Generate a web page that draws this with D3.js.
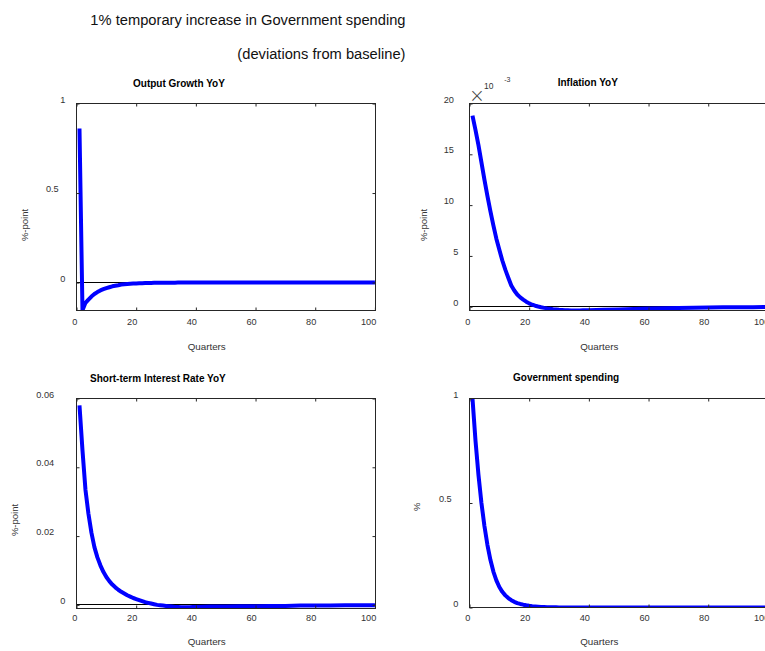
<!DOCTYPE html>
<html><head><meta charset="utf-8">
<script src="https://cdn.jsdelivr.net/npm/d3@7"></script>
<style>
html,body{margin:0;padding:0;background:#fff;}
svg{display:block;font-family:"Liberation Sans",Arial,sans-serif;}
</style></head><body>
<svg id="c" width="765" height="651"></svg>
<script>
// ---- data ----
const quarters = [1,2,3,4,5,6,7,8,9,10,11,12,13,14,15,16,17,18,19,20,
  21,22,23,24,25,26,27,28,29,30,31,32,33,34,35,36,37,38,39,40,
  45,50,55,60,65,70,75,80,85,90,95,100];
const outputGrowth = [0.86,-0.155,-0.113,-0.095,-0.078,-0.064,-0.053,-0.044,-0.037,-0.031,
  -0.026,-0.021,-0.018,-0.015,-0.011,-0.009,-0.0075,-0.0065,-0.0055,-0.0047,
  -0.004,-0.0034,-0.0028,-0.0023,-0.0019,-0.0016,-0.0013,-0.0011,-0.0009,-0.0007,
  -0.0006,-0.0005,-0.0004,-0.0003,-0.0003,-0.0002,-0.0002,-0.0001,-0.0001,-0.0001,
  0,0,0,0,0,0,0,0,0,0,0,0];
const inflation = [18.8,17.4,15.9,14.2,12.5,10.9,9.4,8.0,6.7,5.6,
  4.55,3.65,2.85,2.1,1.6,1.2,0.92,0.7,0.5,0.33,
  0.2,0.1,0.02,-0.05,-0.11,-0.16,-0.2,-0.24,-0.27,-0.3,
  -0.32,-0.34,-0.35,-0.36,-0.36,-0.36,-0.36,-0.35,-0.35,-0.34,
  -0.3,-0.26,-0.22,-0.18,-0.15,-0.12,-0.1,-0.08,-0.06,-0.05,-0.04,-0.03]; // x 10^-3
const interestRate = [0.058,0.045,0.0335,0.0265,0.021,0.0168,0.0138,0.0115,0.0096,0.0081,
  0.0069,0.0059,0.0051,0.0044,0.0038,0.0033,0.0028,0.0024,0.002,0.0017,
  0.0014,0.0011,0.0008,0.0006,0.0004,0.0002,0.0,-0.0001,-0.0002,-0.0003,
  -0.0004,-0.0005,-0.0006,-0.0006,-0.0007,-0.0007,-0.0007,-0.0007,-0.0006,-0.0006,
  -0.0005,-0.0005,-0.0004,-0.0004,-0.0003,-0.0003,-0.0002,-0.0002,-0.0002,-0.0001,-0.0001,-0.0001];
const govSpending = [1.0,0.8,0.635,0.5,0.39,0.3,0.228,0.172,0.13,0.098,
  0.075,0.058,0.045,0.035,0.027,0.021,0.017,0.0135,0.0105,0.008,
  0.006,0.0047,0.0036,0.0028,0.0022,0.0017,0.0013,0.001,0.0008,0.0006,
  0.0005,0.0004,0.0003,0.0002,0.0002,0.0001,0.0001,0.0001,0,0,
  0,0,0,0,0,0,0,0,0,0,0,0];

const xTicks = [0,20,40,60,80,100];
const ticksOutput = [0,0.5,1];
const labelsOutput = ["0","0.5","1"];
const ticksInflation = [0,5,10,15,20];
const labelsInflation = ["0","5","10","15","20"];
const ticksInterest = [0,0.02,0.04,0.06];
const labelsInterest = ["0","0.02","0.04","0.06"];
const ticksGov = [0,0.5,1];
const labelsGov = ["0","0.5","1"];

const panelTitles = ["Output Growth YoY","Inflation YoY","Short-term Interest Rate YoY","Government spending"];
const yAxisLabels = ["%-point","%-point","%-point","%"];
const xAxisLabel = "Quarters";
const mainTitle = "1% temporary increase in Government spending";
const subTitle = "(deviations from baseline)";

// ---- layout ----
const xDomain = [0,100.2];
const panels = [
  {values: outputGrowth, yDomain:[-0.156,1], yTicks:ticksOutput, yLabels:labelsOutput,
   box:{l:76.5,r:375.5,t:103.5,b:310.5}, title:[133,87.2], yLab:[25,225], xLab:[206.7,350.2], xPad:7.8},
  {values: inflation, yDomain:[-0.37,20], yTicks:ticksInflation, yLabels:labelsInflation,
   box:{l:469.5,r:768.5,t:103.5,b:310.5}, title:[557.7,85.5], yLab:[424,225], xLab:[599.3,350.2], xPad:7.8},
  {values: interestRate, yDomain:[-0.00105,0.06], yTicks:ticksInterest, yLabels:labelsInterest,
   box:{l:76.5,r:375.5,t:398.5,b:608.5}, title:[90,382.2], yLab:[15,520], xLab:[206.7,645.2], xPad:5.8},
  {values: govSpending, yDomain:[0,1], yTicks:ticksGov, yLabels:labelsGov,
   box:{l:469.5,r:768.5,t:398.5,b:607.5}, title:[513,380.5], yLab:[416.7,506.7], xLab:[599.3,645.2], xPad:6.8}
];

const svg = d3.select("#c");
const FONT = '"Liberation Sans",Arial,sans-serif';
const AX = "#262626", TXT = "#333";

panels.forEach((p,i)=>{
  const b = p.box;
  const x = d3.scaleLinear().domain(xDomain).range([b.l,b.r]);
  const y = d3.scaleLinear().domain(p.yDomain).range([b.b,b.t]);
  const g = svg.append("g");
  const cid = "clip"+i;
  svg.append("clipPath").attr("id",cid).append("rect")
    .attr("x",b.l).attr("y",b.t).attr("width",b.r-b.l).attr("height",b.b-b.t);

  // zero line
  const y0 = Math.floor(y(0))+0.5;
  g.append("line").attr("x1",b.l).attr("x2",b.r).attr("y1",y0).attr("y2",y0)
    .attr("stroke","#000").attr("stroke-width",1);

  // series
  const line = d3.line().x(d=>x(d[0])).y(d=>y(d[1]));
  g.append("path").datum(d3.zip(quarters,p.values))
    .attr("clip-path",`url(#${cid})`)
    .attr("d",line).attr("fill","none").attr("stroke","#0000ff")
    .attr("stroke-width",4).attr("stroke-linejoin","round");

  // axes
  const styleAxis = sel => {
    sel.attr("font-family",FONT).attr("font-size",9.2);
    sel.select(".domain").remove();
    sel.selectAll("line").attr("stroke",AX);
    sel.selectAll("text").attr("fill",TXT);
  };
  const gx = g.append("g").attr("transform",`translate(0,${b.b})`)
    .call(d3.axisBottom(x).tickValues(xTicks).tickSize(-3).tickPadding(p.xPad).tickFormat(d3.format("d")));
  styleAxis(gx);
  gx.selectAll("text").each(function(){
    const len = this.getComputedTextLength();
    d3.select(this).attr("dx",-0.445*len);
  });
  const gy = g.append("g").attr("transform",`translate(${b.l},0)`)
    .call(d3.axisLeft(y).tickValues(p.yTicks).tickSize(-3).tickPadding(11).tickFormat((d,k)=>p.yLabels[k]));
  styleAxis(gy);
  gy.selectAll("text").attr("dy",null).attr("y",-1.5).each(function(){
    const len = this.getComputedTextLength();
    d3.select(this).attr("dx",-0.89*(len-5.1));
  });
  const gt = g.append("g").attr("transform",`translate(0,${b.t})`)
    .call(d3.axisTop(x).tickValues(xTicks).tickSize(-3).tickFormat(""));
  styleAxis(gt);
  const gr = g.append("g").attr("transform",`translate(${b.r},0)`)
    .call(d3.axisRight(y).tickValues(p.yTicks).tickSize(-3).tickFormat(""));
  styleAxis(gr);

  // box
  g.append("rect").attr("x",b.l).attr("y",b.t).attr("width",b.r-b.l).attr("height",b.b-b.t)
    .attr("fill","none").attr("stroke",AX).attr("stroke-width",1);

  // texts
  g.append("text").attr("x",p.title[0]).attr("y",p.title[1])
    .attr("font-family",FONT).attr("font-size",10).attr("font-weight","bold").attr("fill","#000")
    .text(panelTitles[i]);
  g.append("text").attr("transform",`translate(${p.yLab[0]},${p.yLab[1]}) rotate(-90)`)
    .attr("text-anchor","middle").attr("dy","0.35em")
    .attr("font-family",FONT).attr("font-size",9.5).attr("fill",TXT)
    .text(yAxisLabels[i]);
  g.append("text").attr("x",p.xLab[0]).attr("y",p.xLab[1]).attr("text-anchor","middle")
    .attr("font-family",FONT).attr("font-size",9.8).attr("fill",TXT)
    .text(xAxisLabel);
});

// exponent label of the inflation panel
svg.append("text").attr("x",477).attr("y",102).attr("text-anchor","middle")
  .attr("font-family",'"DejaVu Sans",sans-serif').attr("font-weight",200).attr("font-size",19).attr("fill","#444").text("×");
svg.append("text").attr("x",488.8).attr("y",89).attr("text-anchor","middle")
  .attr("font-family",FONT).attr("font-size",8.5).attr("fill",TXT).text("10");
svg.append("text").attr("x",507.3).attr("y",81.8).attr("text-anchor","middle")
  .attr("font-family",FONT).attr("font-size",7).attr("fill",TXT).text("-3");

// main titles
svg.append("text").attr("x",405.5).attr("y",24.5).attr("text-anchor","end")
  .attr("font-family",FONT).attr("font-size",14.7).attr("fill","#111").text(mainTitle);
svg.append("text").attr("x",405.5).attr("y",58.5).attr("text-anchor","end")
  .attr("font-family",FONT).attr("font-size",14.7).attr("fill","#111").text(subTitle);
</script>
</body></html>
